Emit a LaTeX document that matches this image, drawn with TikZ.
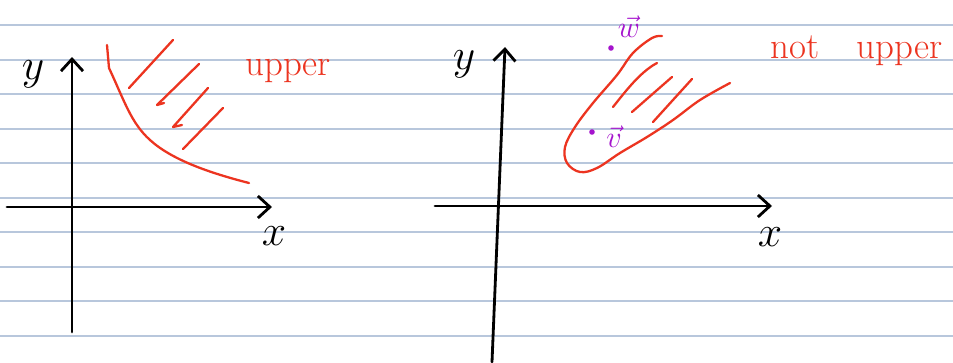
\documentclass[tikz,border=0pt]{standalone}
\usepackage{amsmath,amssymb}
\usetikzlibrary{arrows.meta}
\usepackage{xcolor}
\definecolor{ruled}{RGB}{184,199,220}
\definecolor{pen}{RGB}{236,52,32}
\definecolor{violetpen}{RGB}{165,20,205}

\begin{document}
\begin{tikzpicture}[x=0.02cm,y=-0.02cm,>={Straight Barb[length=2.4mm,width=4.4mm]},line cap=round,line join=round,
  axis/.style={->,black,line width=1.6pt},
  hand/.style={pen,line width=1.3pt},
  word/.style={pen,font=\fontsize{21}{21}\selectfont,inner sep=0pt},
  lab/.style={font=\fontsize{24}{24}\selectfont,inner sep=0pt},
  vlab/.style={violetpen,font=\fontsize{18}{18}\selectfont,inner sep=0pt}]
\useasboundingbox (0,0) rectangle (953,362);
\fill[white] (0,0) rectangle (953,362);
\draw[ruled,line width=0.8pt] (0,25) -- (953,25);
\draw[ruled,line width=0.8pt] (0,60) -- (953,60);
\draw[ruled,line width=0.8pt] (0,94) -- (953,94);
\draw[ruled,line width=0.8pt] (0,129) -- (953,129);
\draw[ruled,line width=0.8pt] (0,163) -- (953,163);
\draw[ruled,line width=0.8pt] (0,198) -- (953,198);
\draw[ruled,line width=0.8pt] (0,232) -- (953,232);
\draw[ruled,line width=0.8pt] (0,267) -- (953,267);
\draw[ruled,line width=0.8pt] (0,301) -- (953,301);
\draw[ruled,line width=0.8pt] (0,336) -- (953,336);
% left graph
\coordinate (leftW) at (7,207);
\coordinate (leftE) at (272,207);
\coordinate (leftS) at (72,332);
\coordinate (leftN) at (72,57);
\draw[axis] (leftW) -- (leftE);
\draw[axis] (leftS) -- (leftN);
\node[lab] (leftY) at (33,74) {$y$};
\node[lab] (leftX) at (274,236) {$x$};
\draw[hand] (107,45) -- (109,68) .. controls (124,100) and (131,123) .. (150,140) .. controls (172,160) and (210,173) .. (249,183);
\draw[hand] (129,88) -- (173,40);
\draw[hand] (199,64) -- (157,105) -- (164,103);
\draw[hand] (208,88) -- (173,127) -- (182,125);
\draw[hand] (223,108) -- (183,149);
\node[word,anchor=base west] (upperA) at (245,75) {upper};
% right graph
\coordinate (rightW) at (435,206);
\coordinate (rightE) at (772,206);
\coordinate (rightS) at (492,362);
\coordinate (rightN) at (505,47);
\draw[axis] (rightW) -- (rightE);
\draw[axis] (rightS) -- (rightN);
\node[lab] (rightY) at (464,64) {$y$};
\node[lab] (rightX) at (770,237) {$x$};
\draw[hand] plot[smooth,tension=0.6] coordinates {(662,36) (652,38) (633,53) (617,75) (593,103) (575,127) (565,147) (567,163) (580,172) (597,168) (620,153) (647,137) (673,120) (700,100) (730,83)};
\draw[hand] (613,107) .. controls (625,92) and (640,72) .. (657,63);
\draw[hand] (632,112) -- (672,77);
\draw[hand] (653,122) -- (692,79);
\node[word,anchor=base west] (notUpper) at (770,58) {not\hspace{15pt} upper};
\fill[violetpen] (611,48) circle (2.8);
\node[vlab] (wvec) at (629,27) {$\vec{w}$};
\fill[violetpen] (592,132) circle (2.8);
\node[vlab] (vvec) at (614,137) {$\vec{v}$};
\end{tikzpicture}
\end{document}
